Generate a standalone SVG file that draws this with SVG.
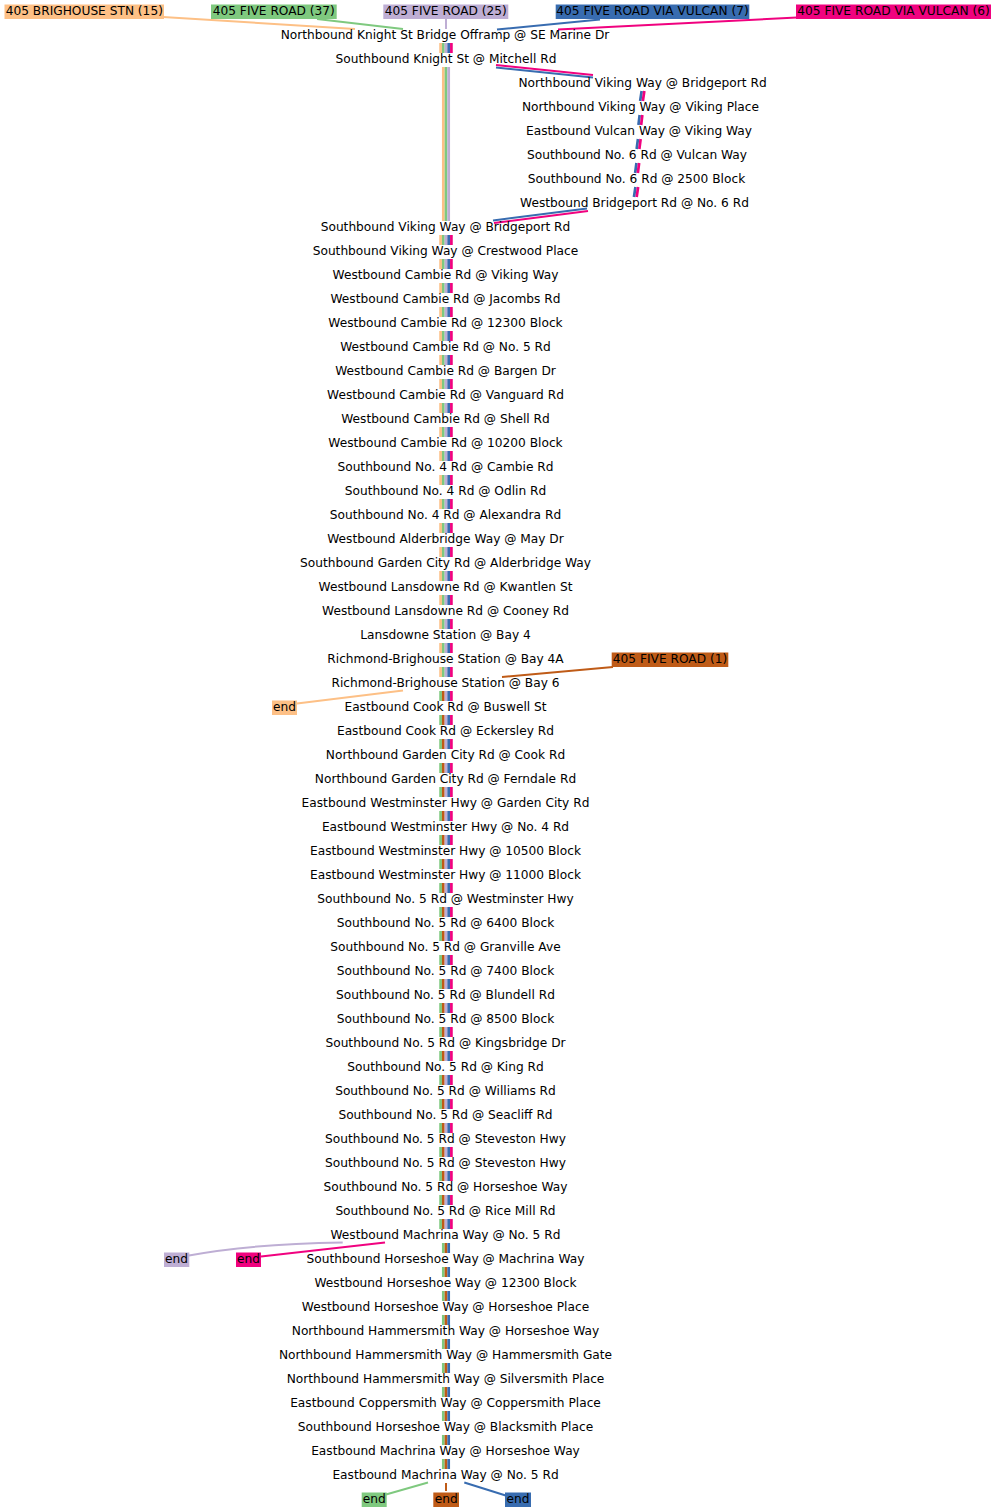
<svg xmlns="http://www.w3.org/2000/svg" width="996" height="1512" viewBox="0 0 996 1512">
<style>
text{font-family:"DejaVu Sans","Liberation Sans",sans-serif;font-size:12.2px;fill:#000;text-anchor:middle}
.e{fill:none;stroke-linecap:butt}
.s{stroke-width:2.7}
.c{stroke-width:2}
.o{stroke:#fdc086}.g{stroke:#7fc97f}.p{stroke:#beaed4}.b{stroke:#386cb0}.k{stroke:#f0027f}.w{stroke:#bf5b17}
.fo{fill:#fdc086}.fg{fill:#7fc97f}.fp{fill:#beaed4}.fb{fill:#386cb0}.fk{fill:#f0027f}.fw{fill:#bf5b17}
</style>
<rect width="996" height="1512" fill="#fff"/>
<g id="connectors">
<path class="e s o" d="M440.6 43v10M443.3 67V221M440.6 235v10m0 14v10m0 14v10m0 14v10m0 14v10m0 14v10m0 14v10m0 14v10m0 14v10m0 14v10m0 14v10m0 14v10m0 14v10m0 14v10m0 14v10m0 14v10m0 14v10m0 14v10m0 14v10"/>
<path class="e s g" d="M443.3 43v10M446 67V221M443.3 235v10m0 14v10m0 14v10m0 14v10m0 14v10m0 14v10m0 14v10m0 14v10m0 14v10m0 14v10m0 14v10m0 14v10m0 14v10m0 14v10m0 14v10m0 14v10m0 14v10m0 14v10m0 14v10M440.6 691v10m0 14v10m0 14v10m0 14v10m0 14v10m0 14v10m0 14v10m0 14v10m0 14v10m0 14v10m0 14v10m0 14v10m0 14v10m0 14v10m0 14v10m0 14v10m0 14v10m0 14v10m0 14v10m0 14v10m0 14v10m0 14v10m0 14v10M443.3 1243v10m0 14v10m0 14v10m0 14v10m0 14v10m0 14v10m0 14v10m0 14v10m0 14v10m0 14v10"/>
<path class="e s w" d="M443.3 691v10m0 14v10m0 14v10m0 14v10m0 14v10m0 14v10m0 14v10m0 14v10m0 14v10m0 14v10m0 14v10m0 14v10m0 14v10m0 14v10m0 14v10m0 14v10m0 14v10m0 14v10m0 14v10m0 14v10m0 14v10m0 14v10m0 14v10M446 1243v10m0 14v10m0 14v10m0 14v10m0 14v10m0 14v10m0 14v10m0 14v10m0 14v10m0 14v10"/>
<path class="e s p" d="M446 43v10M448.7 67V221M446 235v10m0 14v10m0 14v10m0 14v10m0 14v10m0 14v10m0 14v10m0 14v10m0 14v10m0 14v10m0 14v10m0 14v10m0 14v10m0 14v10m0 14v10m0 14v10m0 14v10m0 14v10m0 14v10M446 691v10m0 14v10m0 14v10m0 14v10m0 14v10m0 14v10m0 14v10m0 14v10m0 14v10m0 14v10m0 14v10m0 14v10m0 14v10m0 14v10m0 14v10m0 14v10m0 14v10m0 14v10m0 14v10m0 14v10m0 14v10m0 14v10m0 14v10"/>
<path class="e s b" d="M448.7 43v10M448.7 235v10m0 14v10m0 14v10m0 14v10m0 14v10m0 14v10m0 14v10m0 14v10m0 14v10m0 14v10m0 14v10m0 14v10m0 14v10m0 14v10m0 14v10m0 14v10m0 14v10m0 14v10m0 14v10M448.7 691v10m0 14v10m0 14v10m0 14v10m0 14v10m0 14v10m0 14v10m0 14v10m0 14v10m0 14v10m0 14v10m0 14v10m0 14v10m0 14v10m0 14v10m0 14v10m0 14v10m0 14v10m0 14v10m0 14v10m0 14v10m0 14v10m0 14v10M448.7 1243v10m0 14v10m0 14v10m0 14v10m0 14v10m0 14v10m0 14v10m0 14v10m0 14v10m0 14v10M641.65 91L640.15 101M639.65 115L638.45 125M637.95 139L636.65 149M636.45 163L635.15 173M635.45 187L633.95 197"/>
<path class="e s k" d="M451.4 43v10M451.4 235v10m0 14v10m0 14v10m0 14v10m0 14v10m0 14v10m0 14v10m0 14v10m0 14v10m0 14v10m0 14v10m0 14v10m0 14v10m0 14v10m0 14v10m0 14v10m0 14v10m0 14v10m0 14v10M451.4 691v10m0 14v10m0 14v10m0 14v10m0 14v10m0 14v10m0 14v10m0 14v10m0 14v10m0 14v10m0 14v10m0 14v10m0 14v10m0 14v10m0 14v10m0 14v10m0 14v10m0 14v10m0 14v10m0 14v10m0 14v10m0 14v10m0 14v10M644.35 91L642.85 101M642.35 115L641.15 125M640.65 139L639.35 149M639.15 163L637.85 173M638.15 187L636.65 197"/>
<path class="e c k" d="M496 65L593 75"/>
<path class="e c b" d="M496 67.5L593 77.5"/>
<path class="e c b" d="M587 208.5L493 220.5"/>
<path class="e c k" d="M588 211L494 223"/>
<path class="e c o" d="M163 17L355 29"/>
<path class="e c g" d="M317 19L403 29"/>
<path class="e c p" d="M446 19V29"/>
<path class="e c b" d="M600 19.5L497 29.5"/>
<path class="e c k" d="M797 17.5L558 29.5"/>
<path class="e c w" d="M613 667L502 677"/>
<path class="e c o" d="M403 690.5L297 703.5"/>
<path class="e c p" d="M342.7 1242.5Q250 1244 189 1255.5"/>
<path class="e c k" d="M385 1242.5L261 1256.5"/>
<path class="e c g" d="M428 1482.5L386 1494.5"/>
<path class="e c w" d="M446 1483V1491"/>
<path class="e c b" d="M464.3 1482.5L505.7 1495.5"/>
</g>
<g id="route15"><rect class="fo" x="4.5" y="4.5" width="159.5" height="14.5"/><text x="84.3" y="15">405 BRIGHOUSE STN (15)</text></g>
<g id="route37"><rect class="fg" x="211" y="4.5" width="125.7" height="14.5"/><text x="273.8" y="15">405 FIVE ROAD (37)</text></g>
<g id="route25"><rect class="fp" x="383.3" y="4.5" width="125" height="14.5"/><text x="445.8" y="15">405 FIVE ROAD (25)</text></g>
<g id="route7"><rect class="fb" x="555.7" y="4.5" width="193.6" height="14.5"/><text x="652.5" y="15">405 FIVE ROAD VIA VULCAN (7)</text></g>
<g id="route6"><rect class="fk" x="796" y="4.5" width="195" height="14.5"/><text x="893.5" y="15">405 FIVE ROAD VIA VULCAN (6)</text></g>
<g id="route1"><rect class="fw" x="611.7" y="652.5" width="116.6" height="14.5"/><text x="670" y="663">405 FIVE ROAD (1)</text></g>
<g id="end15"><rect class="fo" x="272" y="700.5" width="25" height="14.5"/><text x="284.5" y="711">end</text></g>
<g id="end25"><rect class="fp" x="164" y="1252.5" width="25.3" height="14.5"/><text x="176.6" y="1263">end</text></g>
<g id="end6"><rect class="fk" x="236" y="1252.5" width="25" height="14.5"/><text x="248.5" y="1263">end</text></g>
<g id="end37"><rect class="fg" x="361.7" y="1492.5" width="25" height="14.5"/><text x="374.2" y="1503">end</text></g>
<g id="end1"><rect class="fw" x="433.3" y="1492.5" width="25.7" height="14.5"/><text x="446.2" y="1503">end</text></g>
<g id="end7"><rect class="fb" x="505" y="1492.5" width="26" height="14.5"/><text x="518" y="1503">end</text></g>
<g id="s0"><text x="445" y="39">Northbound Knight St Bridge Offramp @ SE Marine Dr</text></g>
<g id="s1"><text x="446" y="63">Southbound Knight St @ Mitchell Rd</text></g>
<g id="s2"><text x="642.5" y="87">Northbound Viking Way @ Bridgeport Rd</text></g>
<g id="s3"><text x="640.5" y="111">Northbound Viking Way @ Viking Place</text></g>
<g id="s4"><text x="639" y="135">Eastbound Vulcan Way @ Viking Way</text></g>
<g id="s5"><text x="637" y="159">Southbound No. 6 Rd @ Vulcan Way</text></g>
<g id="s6"><text x="636.5" y="183">Southbound No. 6 Rd @ 2500 Block</text></g>
<g id="s7"><text x="634.5" y="207">Westbound Bridgeport Rd @ No. 6 Rd</text></g>
<g id="s8"><text x="445.5" y="231">Southbound Viking Way @ Bridgeport Rd</text></g>
<g id="s9"><text x="445.5" y="255">Southbound Viking Way @ Crestwood Place</text></g>
<g id="s10"><text x="445.5" y="279">Westbound Cambie Rd @ Viking Way</text></g>
<g id="s11"><text x="445.5" y="303">Westbound Cambie Rd @ Jacombs Rd</text></g>
<g id="s12"><text x="445.5" y="327">Westbound Cambie Rd @ 12300 Block</text></g>
<g id="s13"><text x="445.5" y="351">Westbound Cambie Rd @ No. 5 Rd</text></g>
<g id="s14"><text x="445.5" y="375">Westbound Cambie Rd @ Bargen Dr</text></g>
<g id="s15"><text x="445.5" y="399">Westbound Cambie Rd @ Vanguard Rd</text></g>
<g id="s16"><text x="445.5" y="423">Westbound Cambie Rd @ Shell Rd</text></g>
<g id="s17"><text x="445.5" y="447">Westbound Cambie Rd @ 10200 Block</text></g>
<g id="s18"><text x="445.5" y="471">Southbound No. 4 Rd @ Cambie Rd</text></g>
<g id="s19"><text x="445.5" y="495">Southbound No. 4 Rd @ Odlin Rd</text></g>
<g id="s20"><text x="445.5" y="519">Southbound No. 4 Rd @ Alexandra Rd</text></g>
<g id="s21"><text x="445.5" y="543">Westbound Alderbridge Way @ May Dr</text></g>
<g id="s22"><text x="445.5" y="567">Southbound Garden City Rd @ Alderbridge Way</text></g>
<g id="s23"><text x="445.5" y="591">Westbound Lansdowne Rd @ Kwantlen St</text></g>
<g id="s24"><text x="445.5" y="615">Westbound Lansdowne Rd @ Cooney Rd</text></g>
<g id="s25"><text x="445.5" y="639">Lansdowne Station @ Bay 4</text></g>
<g id="s26"><text x="445.5" y="663">Richmond-Brighouse Station @ Bay 4A</text></g>
<g id="s27"><text x="445.5" y="687">Richmond-Brighouse Station @ Bay 6</text></g>
<g id="s28"><text x="445.5" y="711">Eastbound Cook Rd @ Buswell St</text></g>
<g id="s29"><text x="445.5" y="735">Eastbound Cook Rd @ Eckersley Rd</text></g>
<g id="s30"><text x="445.5" y="759">Northbound Garden City Rd @ Cook Rd</text></g>
<g id="s31"><text x="445.5" y="783">Northbound Garden City Rd @ Ferndale Rd</text></g>
<g id="s32"><text x="445.5" y="807">Eastbound Westminster Hwy @ Garden City Rd</text></g>
<g id="s33"><text x="445.5" y="831">Eastbound Westminster Hwy @ No. 4 Rd</text></g>
<g id="s34"><text x="445.5" y="855">Eastbound Westminster Hwy @ 10500 Block</text></g>
<g id="s35"><text x="445.5" y="879">Eastbound Westminster Hwy @ 11000 Block</text></g>
<g id="s36"><text x="445.5" y="903">Southbound No. 5 Rd @ Westminster Hwy</text></g>
<g id="s37"><text x="445.5" y="927">Southbound No. 5 Rd @ 6400 Block</text></g>
<g id="s38"><text x="445.5" y="951">Southbound No. 5 Rd @ Granville Ave</text></g>
<g id="s39"><text x="445.5" y="975">Southbound No. 5 Rd @ 7400 Block</text></g>
<g id="s40"><text x="445.5" y="999">Southbound No. 5 Rd @ Blundell Rd</text></g>
<g id="s41"><text x="445.5" y="1023">Southbound No. 5 Rd @ 8500 Block</text></g>
<g id="s42"><text x="445.5" y="1047">Southbound No. 5 Rd @ Kingsbridge Dr</text></g>
<g id="s43"><text x="445.5" y="1071">Southbound No. 5 Rd @ King Rd</text></g>
<g id="s44"><text x="445.5" y="1095">Southbound No. 5 Rd @ Williams Rd</text></g>
<g id="s45"><text x="445.5" y="1119">Southbound No. 5 Rd @ Seacliff Rd</text></g>
<g id="s46"><text x="445.5" y="1143">Southbound No. 5 Rd @ Steveston Hwy</text></g>
<g id="s47"><text x="445.5" y="1167">Southbound No. 5 Rd @ Steveston Hwy</text></g>
<g id="s48"><text x="445.5" y="1191">Southbound No. 5 Rd @ Horseshoe Way</text></g>
<g id="s49"><text x="445.5" y="1215">Southbound No. 5 Rd @ Rice Mill Rd</text></g>
<g id="s50"><text x="445.5" y="1239">Westbound Machrina Way @ No. 5 Rd</text></g>
<g id="s51"><text x="445.5" y="1263">Southbound Horseshoe Way @ Machrina Way</text></g>
<g id="s52"><text x="445.5" y="1287">Westbound Horseshoe Way @ 12300 Block</text></g>
<g id="s53"><text x="445.5" y="1311">Westbound Horseshoe Way @ Horseshoe Place</text></g>
<g id="s54"><text x="445.5" y="1335">Northbound Hammersmith Way @ Horseshoe Way</text></g>
<g id="s55"><text x="445.5" y="1359">Northbound Hammersmith Way @ Hammersmith Gate</text></g>
<g id="s56"><text x="445.5" y="1383">Northbound Hammersmith Way @ Silversmith Place</text></g>
<g id="s57"><text x="445.5" y="1407">Eastbound Coppersmith Way @ Coppersmith Place</text></g>
<g id="s58"><text x="445.5" y="1431">Southbound Horseshoe Way @ Blacksmith Place</text></g>
<g id="s59"><text x="445.5" y="1455">Eastbound Machrina Way @ Horseshoe Way</text></g>
<g id="s60"><text x="445.5" y="1479">Eastbound Machrina Way @ No. 5 Rd</text></g>
</svg>
